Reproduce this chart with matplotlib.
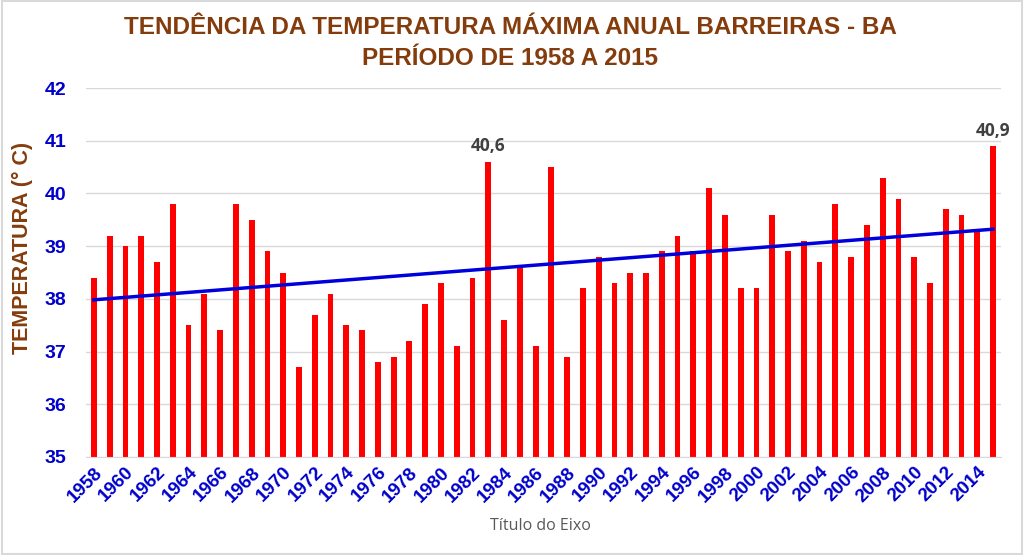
import numpy as np
import matplotlib
matplotlib.use("Agg")
import matplotlib.pyplot as plt
from matplotlib.patches import Rectangle

years = list(range(1958, 2016))
temps = [38.4, 39.2, 39.0, 39.2, 38.7, 39.8, 37.5, 38.1, 37.4, 39.8,
         39.5, 38.9, 38.5, 36.7, 37.7, 38.1, 37.5, 37.4, 36.8, 36.9,
         37.2, 37.9, 38.3, 37.1, 38.4, 40.6, 37.6, 38.6, 37.1, 40.5,
         36.9, 38.2, 38.8, 38.3, 38.5, 38.5, 38.9, 39.2, 38.9, 40.1,
         39.6, 38.2, 38.2, 39.6, 38.9, 39.1, 38.7, 39.8, 38.8, 39.4,
         40.3, 39.9, 38.8, 38.3, 39.7, 39.6, 39.3, 40.9]
labelled_years = [1983, 2015]
title = "TENDÊNCIA DA TEMPERATURA MÁXIMA ANUAL BARREIRAS - BA\nPERÍODO DE 1958 A 2015"
ylabel = "TEMPERATURA (° C)"
xlabel = "Título do Eixo"

BROWN = "#843C0C"
BLUE = "#0000CC"
plt.rcParams['font.family'] = ['Liberation Sans', 'DejaVu Sans']

fig = plt.figure(figsize=(10.24, 5.55), dpi=100)
fig.patches.append(Rectangle((0.002, 0.002), 0.996, 0.996, transform=fig.transFigure,
                             fill=False, edgecolor="#d9d9d9", linewidth=1.5))
ax = fig.add_axes([0.084, 0.1766, 0.8935, 0.6648])

x = np.arange(len(years))
ax.bar(x, [t - 35 for t in temps], bottom=35, width=0.37, color="#FF0000", zorder=2)

coef = np.polyfit(x, temps, 1)
ax.plot([x[0], x[-1]], np.polyval(coef, [x[0], x[-1]]), color="#0000DD", linewidth=2.5, zorder=3)

for yr in labelled_years:
    i = years.index(yr)
    ax.text(x[i], temps[i] + 0.12, f"{temps[i]:.1f}".replace(".", ","), ha="center", va="bottom",
            fontsize=12.5, fontweight="bold", color="#404040", family=['Open Sans', 'DejaVu Sans'])

ax.set_xlim(-0.5, len(years) - 0.5)
ax.set_ylim(35, 42)
ax.set_yticks(range(35, 43))
ax.yaxis.grid(True, color="#d9d9d9", linewidth=1, zorder=0)
ax.set_axisbelow(True)
for s in ["left", "right", "top"]:
    ax.spines[s].set_visible(False)
ax.spines["bottom"].set_color("#d9d9d9")
ax.tick_params(axis="y", length=0, labelsize=14, labelcolor=BLUE, pad=14)
ax.tick_params(axis="x", length=0, labelsize=13.5, labelcolor=BLUE, pad=5)
for lab in ax.get_yticklabels():
    lab.set_fontweight("bold")

ax.set_xticks(x[::2])
ax.set_xticklabels([str(y) for y in years[::2]], rotation=45, ha="right",
                   rotation_mode="anchor", fontweight="bold")

fig.text(22 / 1024, 1 - 248 / 555, ylabel, rotation=90, ha="center", va="center",
         fontsize=15.5, fontweight="bold", color=BROWN)
fig.text(0.528, 0.053, xlabel, ha="center", va="center", fontsize=11.5, color="#595959",
         family=['Open Sans', 'DejaVu Sans'])
fig.text(0.498, 0.922, title, ha="center", va="center", fontsize=17.5, fontweight="bold",
         color=BROWN, linespacing=1.45)

fig.savefig("out.png", dpi=100)
